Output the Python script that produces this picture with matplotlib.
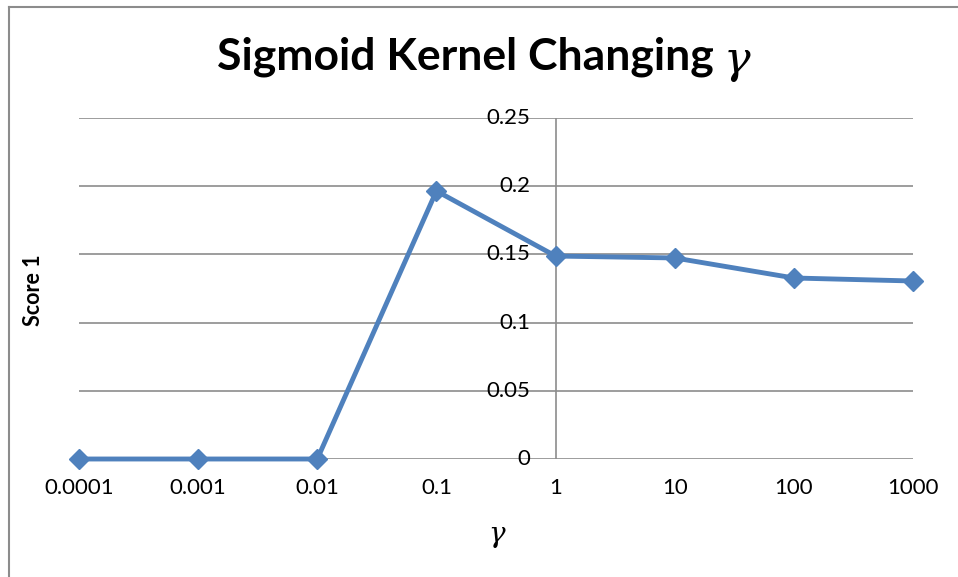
import matplotlib
matplotlib.use("Agg")
import matplotlib.pyplot as plt
from matplotlib.lines import Line2D

gammas = [0.0001, 0.001, 0.01, 0.1, 1, 10, 100, 1000]
tick_labels = ["0.0001", "0.001", "0.01", "0.1", "1", "10", "100", "1000"]
scores = [0.0, 0.0, 0.0, 0.1965, 0.1488, 0.1474, 0.1327, 0.1305]
yticks = [0, 0.05, 0.1, 0.15, 0.2, 0.25]
ytick_labels = ["0", "0.05", "0.1", "0.15", "0.2", "0.25"]

plt.rcParams['font.family'] = ['Lato', 'DejaVu Sans']
plt.rcParams['mathtext.fontset'] = 'dejavuserif'

fig = plt.figure(figsize=(9.58, 5.77), dpi=100)
# chart border: top and left edges only visible
fig.add_artist(Line2D([9/958, 1], [1 - 7/577, 1 - 7/577], transform=fig.transFigure,
                      color='#8c8c8c', linewidth=1.5))
fig.add_artist(Line2D([9/958, 9/958], [0, 1 - 7/577], transform=fig.transFigure,
                      color='#8c8c8c', linewidth=1.5))

ax = fig.add_axes([79/958, 1 - 459/577, (913 - 79)/958, (459 - 118)/577])
ax.set_xscale('log')
ax.set_xlim(1e-4, 1e3)
ax.set_ylim(0, 0.25)

for y in yticks:
    ax.axhline(y, color='#8c8c8c', linewidth=1.2, zorder=1)
ax.axvline(1, color='#8c8c8c', linewidth=1.2, zorder=1)

ax.plot(gammas, scores, color='#4F81BD', linewidth=3.5, marker='D', markersize=10.5,
        zorder=3, clip_on=False)

for s in ax.spines.values():
    s.set_visible(False)
ax.set_xticks(gammas)
ax.set_xticklabels(tick_labels, fontsize=16)
ax.minorticks_off()
ax.tick_params(axis='x', length=0, pad=14)
ax.set_yticks([])
for y, lab in zip(yticks, ytick_labels):
    ax.annotate(lab, xy=(1, y), xycoords='data', xytext=(-18, 0), textcoords='offset points',
                ha='right', va='center', fontsize=16)

fig.text(465/958, 1 - 57/577, "Sigmoid Kernel Changing", ha='center', va='center',
         fontsize=32, fontweight='bold')
fig.text(737/958, 1 - 64/577, "$\\gamma$", ha='center', va='center', fontsize=32)
fig.text(33/958, 1 - 290/577, "Score 1", rotation=90, ha='center', va='center',
         fontsize=15.5, fontweight='bold')
fig.text(497/958, 1 - 537/577, "$\\gamma$", ha='center', va='center', fontsize=20)

fig.savefig("out.png", dpi=100)
